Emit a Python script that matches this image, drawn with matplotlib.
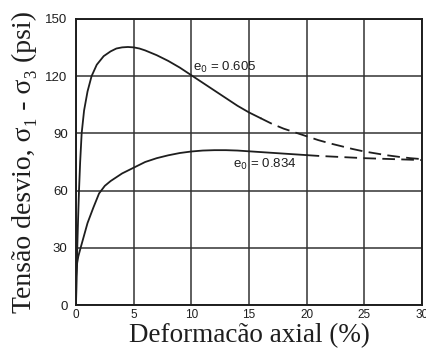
import matplotlib
matplotlib.use("Agg")
import matplotlib.pyplot as plt

# curva e0 = 0.605 (solo denso): trecho medido e trecho extrapolado
denso_x = [0, 0.05, 0.11, 0.18, 0.26, 0.36, 0.49, 0.7, 1.0, 1.35, 1.8, 2.4, 3.0, 3.5,
           4.0, 4.5, 5.0, 5.5, 6, 7, 8, 9, 10, 11, 12, 13, 14, 15, 16]
denso_y = [0, 15, 30, 45, 60, 75, 90, 102, 112, 120, 126, 130.5, 133, 134.5,
           135.1, 135.3, 135.1, 134.5, 133.5, 131, 128, 124.5, 120.5, 116.5, 112.5,
           108.5, 104.5, 101, 98]
denso_ext_x = [16, 17, 18, 19, 20, 21, 22, 23, 24, 25, 26, 27, 28, 29, 30]
denso_ext_y = [98, 95, 92.5, 90.5, 88.5, 86.5, 84.8, 83.3, 81.8, 80.5, 79.5, 78.5,
               77.7, 77, 76.5]

# curva e0 = 0.834 (solo fofo)
fofo_x = [0, 0.03, 0.1, 0.2, 0.4, 0.7, 1.0, 1.5, 2.0, 2.5, 3, 4, 5, 6, 7, 8, 9, 10,
          11, 12, 13, 14, 15, 16, 17, 18, 19, 20]
fofo_y = [0, 15, 22, 25.5, 30, 36.5, 43, 51, 58.5, 62.5, 65, 69, 72, 75, 77, 78.5,
          79.7, 80.5, 81, 81.2, 81.2, 81, 80.6, 80.2, 79.8, 79.4, 79, 78.6]
fofo_ext_x = [20, 21, 22, 23, 24, 25, 26, 27, 28, 29, 30]
fofo_ext_y = [78.6, 78.2, 77.9, 77.6, 77.3, 77.0, 76.8, 76.6, 76.4, 76.2, 76.0]

x_ticks = [0, 5, 10, 15, 20, 25, 30]
y_ticks = [0, 30, 60, 90, 120, 150]

ink = "#1e1e1e"
fig = plt.figure(figsize=(4.27, 3.51), dpi=100)
ax = fig.add_axes([0.178, 0.131, 0.810, 0.815])

ax.plot(denso_x, denso_y, color=ink, lw=1.3)
ax.plot(denso_ext_x, denso_ext_y, color=ink, lw=1.3, dashes=(7, 3.5))
ax.plot(fofo_x, fofo_y, color=ink, lw=1.3)
ax.plot(fofo_ext_x, fofo_ext_y, color=ink, lw=1.3, dashes=(7, 3.5))

ax.text(10.15, 122.5, "e$_0$ = 0.605", fontsize=9.5, family="Liberation Sans", color=ink)
ax.text(13.6, 72, "e$_0$ = 0.834", fontsize=9.5, family="Liberation Sans", color=ink)

ax.set_xlim(0, 30)
ax.set_ylim(0, 150)
ax.set_xticks(x_ticks)
ax.set_yticks(y_ticks)
ax.grid(True, color="#333333", lw=1.1)
ax.tick_params(length=0, labelcolor=ink)
ax.tick_params(axis="x", pad=3, labelsize=8.5)
ax.tick_params(axis="y", pad=6, labelsize=9.5)
for lab in ax.get_xticklabels() + ax.get_yticklabels():
    lab.set_family("Liberation Sans")
for sp in ax.spines.values():
    sp.set_color(ink)
    sp.set_linewidth(1.4)

serif = ["Liberation Serif", "DejaVu Serif"]
ax.set_xlabel("Deformacão axial (%)", fontsize=19.5, family=serif, color=ink, va="baseline")
ax.xaxis.set_label_coords(0.501, -0.129)
ax.set_ylabel("Tensão desvio, σ₁ - σ₃ (psi)", fontsize=20, family=serif, color=ink, va="center")
ax.yaxis.set_label_coords(-0.15, 0.5)

fig.savefig("out.png", dpi=100)
